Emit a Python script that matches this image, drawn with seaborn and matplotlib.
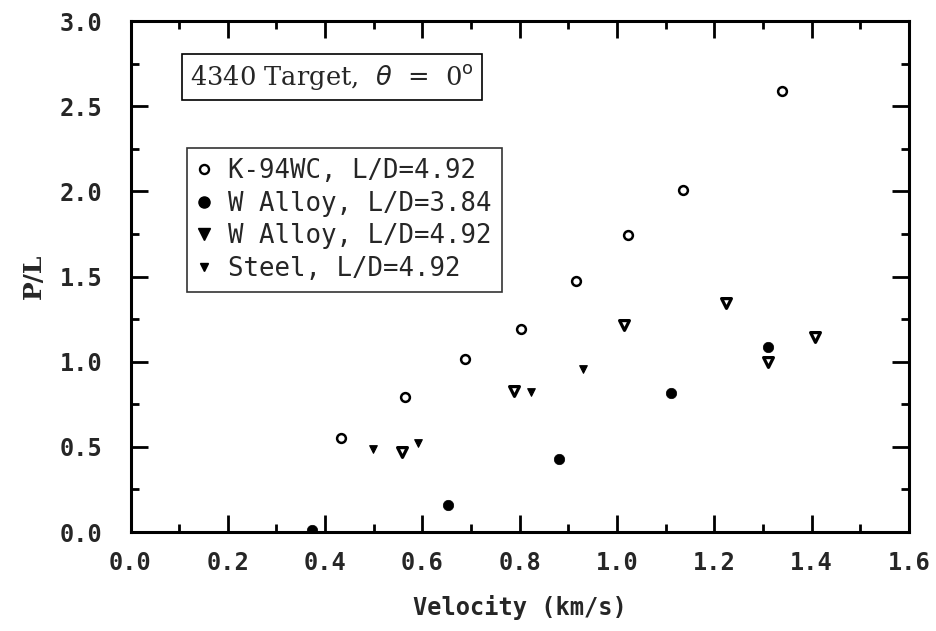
import numpy as np
import pandas as pd
import matplotlib
matplotlib.use("Agg")
import matplotlib.pyplot as plt
import seaborn as sns
from matplotlib.lines import Line2D
from matplotlib.ticker import MultipleLocator

# ---- data ----
series_labels = ["K-94WC, L/D=4.92", "W Alloy, L/D=3.84",
                 "W Alloy, L/D=4.92", "Steel, L/D=4.92"]

k94_velocity = [0.433, 0.565, 0.688, 0.802, 0.915, 1.023, 1.135, 1.339]
k94_pl = [0.553, 0.795, 1.014, 1.192, 1.474, 1.744, 2.008, 2.590]

walloy384_velocity = [0.372, 0.653, 0.881, 1.111, 1.310]
walloy384_pl = [0.012, 0.157, 0.427, 0.818, 1.088]

walloy492_velocity = [0.558, 0.789, 1.014, 1.223, 1.310, 1.406]
walloy492_pl = [0.472, 0.830, 1.215, 1.343, 0.996, 1.147]

steel_velocity = [0.498, 0.590, 0.824, 0.929]
steel_pl = [0.490, 0.521, 0.824, 0.955]

x_ticks = [0.0, 0.2, 0.4, 0.6, 0.8, 1.0, 1.2, 1.4, 1.6]
y_ticks = [0.0, 0.5, 1.0, 1.5, 2.0, 2.5, 3.0]

sns.set_theme(style="ticks")
plt.rcParams['font.family'] = ['DejaVu Sans']

W, H = 936, 631
fig = plt.figure(figsize=(W / 100, H / 100), dpi=100)
left, right, top, bottom = 130.5, 909, 21, 532
ax = fig.add_axes([left / W, 1 - bottom / H, (right - left) / W, (bottom - top) / H])
ax.set_facecolor("white")

sns.scatterplot(x=k94_velocity, y=k94_pl, ax=ax, marker="o", s=40,
                color="white", edgecolor="black", linewidth=1.8, zorder=3)
sns.scatterplot(x=walloy384_velocity, y=walloy384_pl, ax=ax, marker="o", s=56,
                color="black", edgecolor="black", linewidth=0.5, zorder=3)
sns.scatterplot(x=walloy492_velocity, y=walloy492_pl, ax=ax, marker="v", s=50,
                color="white", edgecolor="black", linewidth=2.3, zorder=3)
sns.scatterplot(x=steel_velocity, y=steel_pl, ax=ax, marker="v", s=30,
                color="black", edgecolor="black", linewidth=0.8, zorder=3)

ax.set_xlim(0, 1.6)
ax.set_ylim(0, 3.0)
ax.set_xticks(x_ticks)
ax.set_yticks(y_ticks)
ax.set_xticklabels([f"{v:.1f}" for v in x_ticks])
ax.set_yticklabels([f"{v:.1f}" for v in y_ticks])
ax.xaxis.set_minor_locator(MultipleLocator(0.1))
ax.yaxis.set_minor_locator(MultipleLocator(0.25))
ax.tick_params(which="both", direction="in", top=True, right=True, width=2, color="black")
ax.tick_params(which="major", length=12)
ax.tick_params(axis="x", which="major", pad=14)
ax.tick_params(axis="y", which="major", pad=20)
ax.tick_params(which="minor", length=6)
for lab in ax.get_xticklabels() + ax.get_yticklabels():
    lab.set_fontfamily("DejaVu Sans Mono")
    lab.set_fontweight("bold")
    lab.set_fontsize(17)
for sp in ax.spines.values():
    sp.set_linewidth(2.2)
    sp.set_color("black")

ax.set_xlabel("Velocity (km/s)", fontfamily="DejaVu Sans Mono", fontweight="bold",
              fontsize=17, labelpad=14)
ax.set_ylabel("P/L", fontfamily="DejaVu Serif", fontweight="bold", fontsize=18, labelpad=10)

# title box
ax.text((190 - left) / (right - left), (bottom - 77) / (bottom - top),
        r"4340 Target,  $\theta$  =  0$^{\mathrm{o}}$", transform=ax.transAxes,
        fontfamily="DejaVu Serif", fontsize=18.5, va="center", ha="left",
        bbox=dict(boxstyle="square,pad=0.3", facecolor="white", edgecolor="black", linewidth=1.2))

handles = [
    Line2D([], [], marker="o", linestyle="none", markerfacecolor="white",
           markeredgecolor="black", markersize=6.5, markeredgewidth=1.7),
    Line2D([], [], marker="o", linestyle="none", markerfacecolor="black",
           markeredgecolor="black", markersize=8),
    Line2D([], [], marker="v", linestyle="none", markerfacecolor="black",
           markeredgecolor="black", markersize=8),
    Line2D([], [], marker="v", linestyle="none", markerfacecolor="black",
           markeredgecolor="black", markersize=5.5),
]
leg = ax.legend(handles, series_labels, loc="upper left",
                bbox_to_anchor=((187 - left) / (right - left), (bottom - 148) / (bottom - top)),
                borderaxespad=0, frameon=True, fancybox=False, edgecolor="black",
                prop={"family": "DejaVu Sans Mono", "size": 18.5}, handlelength=0.5,
                handletextpad=0.7, labelspacing=0.25, borderpad=0.4)
leg.get_frame().set_linewidth(1.2)

fig.savefig("out.png", dpi=100, facecolor="white")
